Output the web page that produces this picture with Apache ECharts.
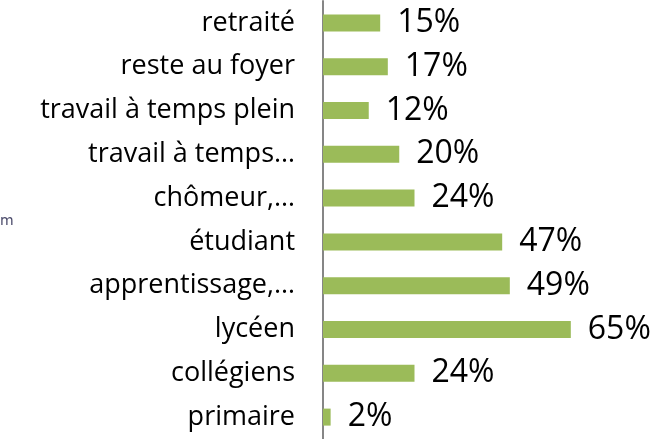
<!DOCTYPE html>
<html>
<head>
<meta charset="utf-8">
<script src="https://cdn.jsdelivr.net/npm/echarts@6/dist/echarts.min.js"></script>
<style>
  html, body { margin: 0; padding: 0; background: #fff; }
  #chart { width: 666px; height: 439px; }
</style>
</head>
<body>
<div id="chart"></div>
<script>
// categories from top to bottom
const categories = [
  "retraité",
  "reste au foyer",
  "travail à temps plein",
  "travail à temps…",
  "chômeur,…",
  "étudiant",
  "apprentissage,…",
  "lycéen",
  "collégiens",
  "primaire"
];
const values = [15, 17, 12, 20, 24, 47, 49, 65, 24, 2];

const chart = echarts.init(document.getElementById("chart"));
chart.setOption({
  animation: false,
  grid: { left: 323, top: 1, width: 305, height: 441 },
  xAxis: {
    type: "value",
    min: 0,
    max: 80,
    show: false
  },
  yAxis: {
    type: "category",
    inverse: true,
    data: categories,
    axisLine: { show: true, lineStyle: { color: "#868686", width: 2 } },
    axisTick: { show: false },
    axisLabel: {
      margin: 28,
      color: "#000",
      fontSize: 27,
      fontFamily: "Open Sans"
    }
  },
  graphic: [
    {
      type: "text",
      left: 0,
      top: 214,
      style: { text: "m", fontSize: 14, fill: "#4a4a6a", fontFamily: "DejaVu Sans" }
    }
  ],
  series: [
    {
      type: "bar",
      data: values,
      barWidth: 17,
      itemStyle: { color: "#9BBB59" },
      label: {
        show: true,
        position: "right",
        distance: 17,
        formatter: "{c}%",
        color: "#000",
        fontSize: 32,
        fontFamily: "Open Sans"
      }
    }
  ]
});
</script>
</body>
</html>
